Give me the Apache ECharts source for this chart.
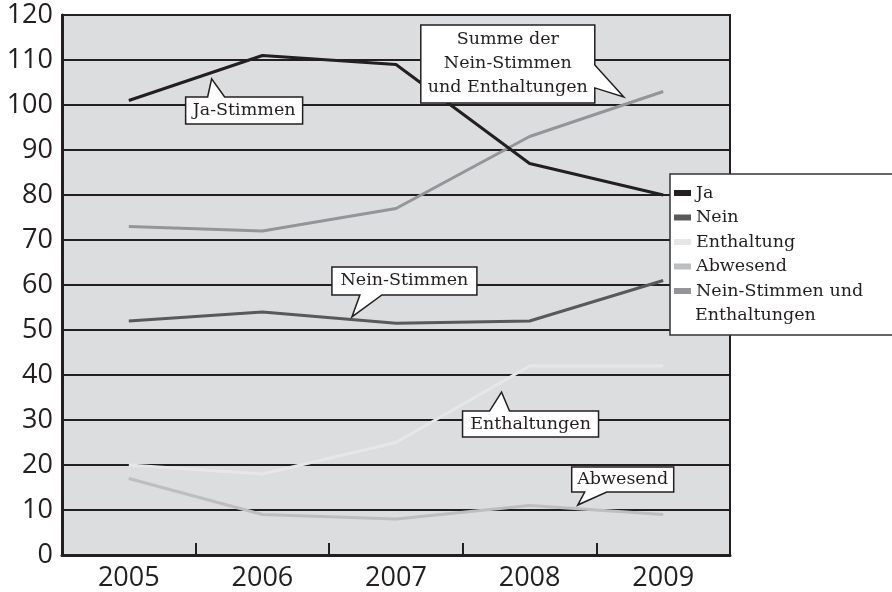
<!DOCTYPE html>
<html>
<head>
<meta charset="utf-8">
<script src="https://cdn.jsdelivr.net/npm/echarts@6/dist/echarts.min.js"></script>
<style>
html, body { margin: 0; padding: 0; background: #fff; }
#chart { width: 892px; height: 592px; }
</style>
</head>
<body>
<div id="chart"></div>
<script>
// values
const years = ['2005', '2006', '2007', '2008', '2009'];
const ja = [101, 111, 109, 87, 80];
const nein = [52, 54, 51.5, 52, 61];
const enthaltung = [20, 18, 25, 42, 42];
const abwesend = [17, 9, 8, 11, 9];
const neinUndEnth = [73, 72, 77, 93, 103];

const seriesNames = ['Ja', 'Nein', 'Enthaltung', 'Abwesend', 'Nein-Stimmen und Enthaltungen'];
const seriesColors = ['#231f20', '#58595b', '#e6e7e8', '#bcbec0', '#939598'];
const seriesData = [ja, nein, enthaltung, abwesend, neinUndEnth];

// callouts: pointer tip as [category position, value], box offset from tip
const callouts = [
    { text: 'Ja-Stimmen', at: [0.62, 105.8], dx: -26, dy: 18, w: 117, h: 27, edge: 'top', a: 22, b: 39 },
    { text: 'Summe der\nNein-Stimmen\nund Enthaltungen', at: [3.705, 101.8], dx: -203, dy: -72, w: 174, h: 78, edge: 'right', a: 40, b: 63 },
    { text: 'Nein-Stimmen', at: [1.67, 52.9], dx: -20, dy: -50, w: 145, h: 28, edge: 'bottom', a: 28, b: 50 },
    { text: 'Enthaltungen', at: [2.79, 36.2], dx: -39, dy: 19, w: 136, h: 26, edge: 'top', a: 27, b: 47 },
    { text: 'Abwesend', at: [3.36, 11.1], dx: -6, dy: -38, w: 102, h: 25, edge: 'bottom', a: 13, b: 35 }
];

const serif = '"DejaVu Serif", serif';
const sans = '"Open Sans", sans-serif';

const chart = echarts.init(document.getElementById('chart'));

chart.setOption({
    animation: false,
    backgroundColor: '#fff',
    grid: {
        show: true,
        left: 62,
        right: 162,
        top: 15,
        bottom: 37,
        backgroundColor: '#dcddde',
        borderColor: '#231f20',
        borderWidth: 2
    },
    legend: {
        orient: 'vertical',
        left: 670,
        top: 174,
        icon: 'rect',
        itemWidth: 17,
        itemHeight: 6,
        itemGap: 0.5,
        padding: [7, 90, 32, 4],
        backgroundColor: '#fff',
        borderColor: '#333',
        borderWidth: 1.5,
        borderRadius: 0,
        formatter(name) {
            return name === 'Nein-Stimmen und Enthaltungen' ? 'Nein-Stimmen und' : name;
        },
        textStyle: {
            fontFamily: serif,
            fontSize: 17.5,
            lineHeight: 24,
            color: '#231f20'
        },
        data: seriesNames
    },
    xAxis: {
        type: 'category',
        data: years,
        boundaryGap: true,
        z: 5,
        axisLine: {
            lineStyle: { color: '#231f20', width: 3 }
        },
        axisTick: {
            show: true,
            inside: true,
            interval: 0,
            length: 12,
            lineStyle: { color: '#231f20', width: 2 }
        },
        axisLabel: {
            margin: 10,
            fontFamily: sans,
            fontSize: 27,
            color: '#231f20'
        }
    },
    yAxis: {
        type: 'value',
        min: 0,
        max: 120,
        interval: 10,
        axisLine: {
            show: true,
            lineStyle: { color: '#231f20', width: 3 }
        },
        axisTick: { show: false },
        axisLabel: {
            margin: 9,
            padding: [5, 0, 0, 0],
            fontFamily: sans,
            fontSize: 27,
            color: '#231f20'
        },
        splitLine: {
            lineStyle: { color: '#231f20', width: 2 }
        }
    },
    series: seriesNames.map((name, i) => ({
        name: name,
        type: 'line',
        data: seriesData[i],
        showSymbol: false,
        symbol: 'none',
        color: seriesColors[i],
        lineStyle: { color: seriesColors[i], width: 3 },
        z: i === 0 ? 4 : 3
    }))
});

function toPx(catF, val) {
    const i0 = Math.floor(catF);
    const t = catF - i0;
    const p0 = chart.convertToPixel({ gridIndex: 0 }, [i0, val]);
    const p1 = chart.convertToPixel({ gridIndex: 0 }, [i0 + 1, val]);
    return [p0[0] + (p1[0] - p0[0]) * t, p0[1]];
}

function bubblePoints(x, y, w, h, edge, a, b, tx, ty) {
    if (edge === 'top') {
        return [[x, y], [x + a, y], [tx, ty], [x + b, y], [x + w, y], [x + w, y + h], [x, y + h]];
    }
    if (edge === 'right') {
        return [[x, y], [x + w, y], [x + w, y + a], [tx, ty], [x + w, y + b], [x + w, y + h], [x, y + h]];
    }
    return [[x, y], [x + w, y], [x + w, y + h], [x + b, y + h], [tx, ty], [x + a, y + h], [x, y + h]];
}

const graphics = [];
callouts.forEach(c => {
    const tip = toPx(c.at[0], c.at[1]);
    const x = tip[0] + c.dx;
    const y = tip[1] + c.dy;
    graphics.push({
        type: 'polygon',
        z: 100,
        shape: { points: bubblePoints(x, y, c.w, c.h, c.edge, c.a, c.b, tip[0], tip[1]) },
        style: { fill: '#fff', stroke: '#231f20', lineWidth: 1.5 }
    });
    graphics.push({
        type: 'text',
        z: 101,
        x: x + c.w / 2,
        y: y + c.h / 2,
        style: {
            text: c.text,
            align: 'center',
            verticalAlign: 'middle',
            font: '17.5px ' + serif,
            lineHeight: 24,
            fill: '#231f20'
        }
    });
});

// second line of the last legend entry
graphics.push({
    type: 'text',
    z: 101,
    left: 695,
    top: 303,
    style: {
        text: 'Enthaltungen',
        font: '17.5px ' + serif,
        lineHeight: 24,
        fill: '#231f20'
    }
});

chart.setOption({ graphic: graphics });
</script>
</body>
</html>
